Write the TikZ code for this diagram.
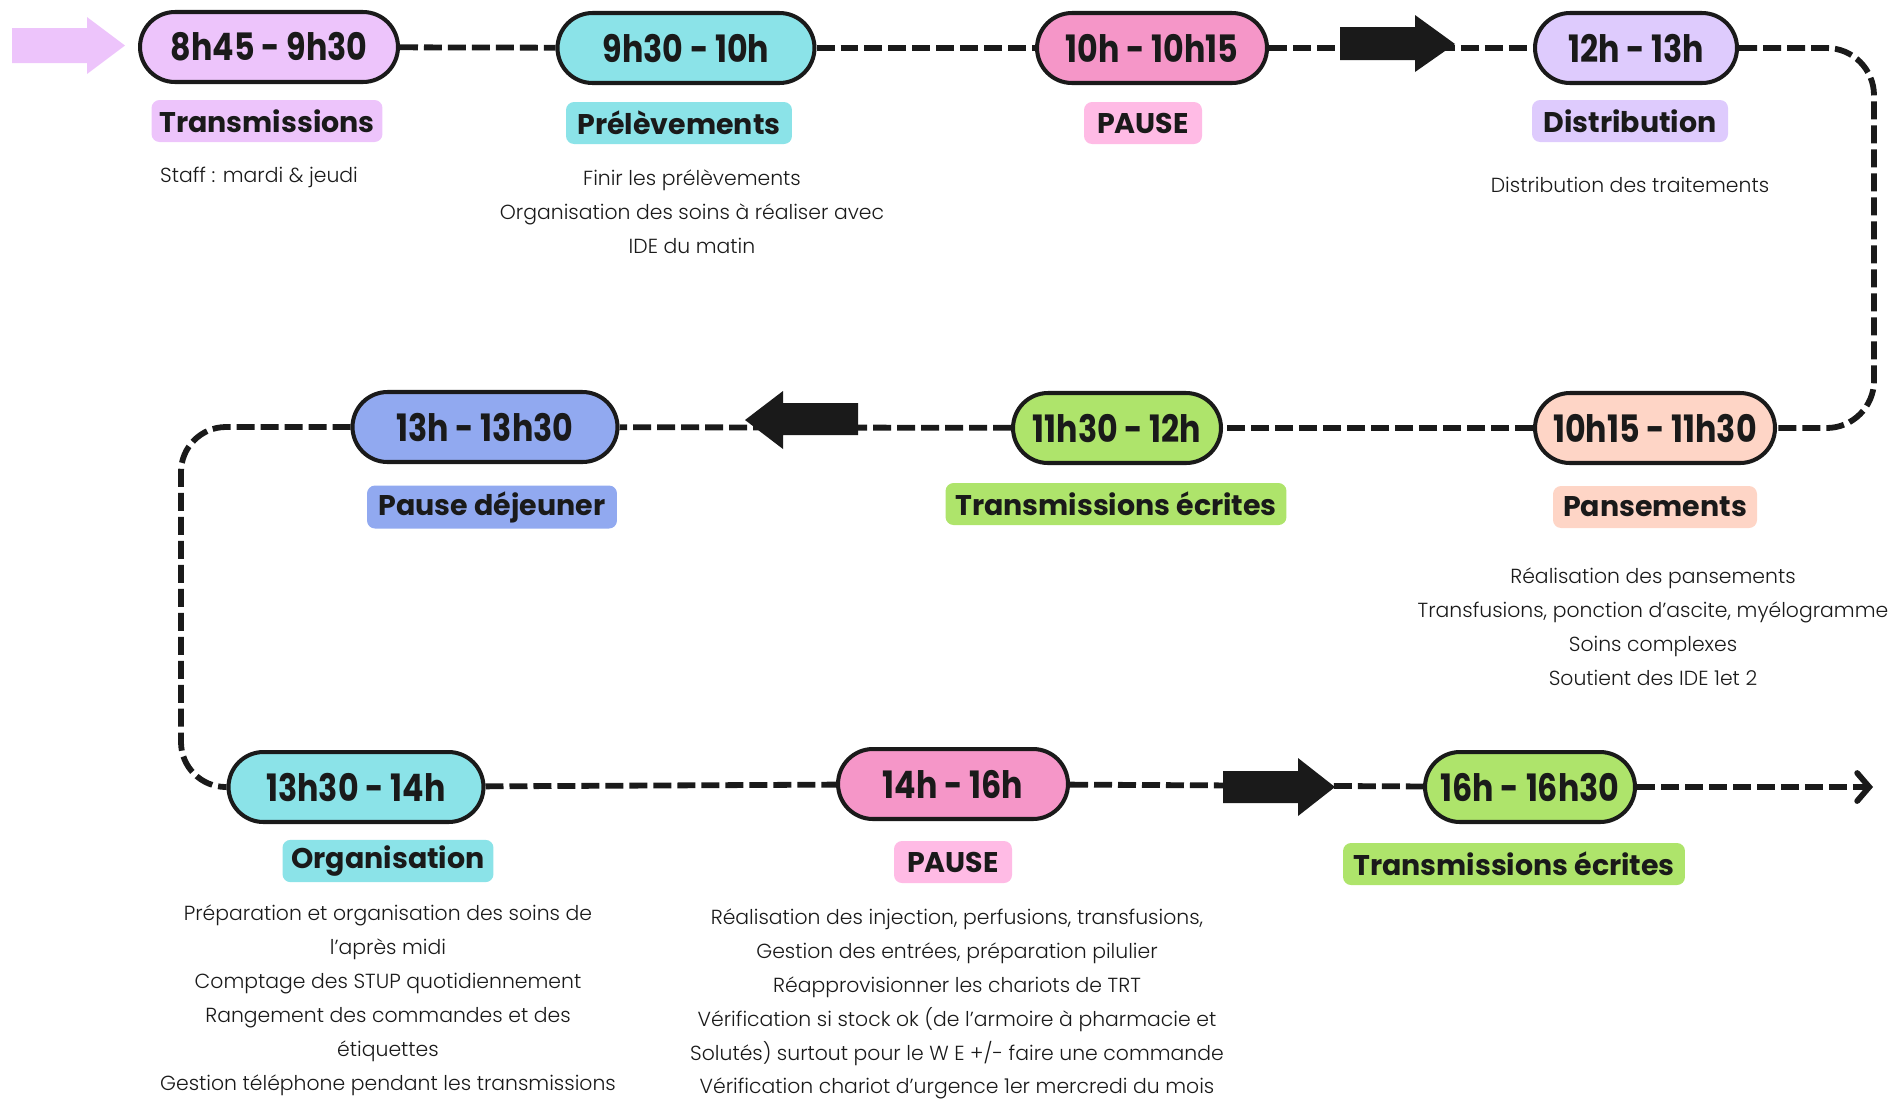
\documentclass[tikz,border=0pt]{standalone}
\usepackage{fontspec}
\setmainfont{Poppins}
\newfontfamily\hourfont{Poppins}[FakeStretch=0.84]
\newfontfamily\thinfont{Poppins}[UprightFont=* Light]
\usetikzlibrary{arrows.meta}
\definecolor{ink}{HTML}{1A1A1A}
\definecolor{mauve}{HTML}{EDC4FB}
\definecolor{cyan}{HTML}{8BE3E8}
\definecolor{rose}{HTML}{F596C8}
\definecolor{lightrose}{HTML}{FFBBE5}
\definecolor{lavender}{HTML}{DECBFD}
\definecolor{peach}{HTML}{FED5C6}
\definecolor{lime}{HTML}{AEE46B}
\definecolor{periwinkle}{HTML}{91A9F0}

\begin{document}
\begin{tikzpicture}[x=0.02cm,y=-0.02cm,
  hour/.style={draw=ink, line width=2.3pt, rounded corners=0.7cm, minimum height=1.4cm, inner xsep=0pt, text=ink, font=\hourfont\bfseries\fontsize{21.5}{24}\selectfont},
  tag/.style={rounded corners=0.16cm, minimum height=0.84cm, inner xsep=0pt, text=ink, font=\bfseries\fontsize{16.2}{18}\selectfont},
  notes/.style={align=center, text=ink, font=\thinfont\fontsize{11.6}{19.3}\selectfont},
  track/.style={draw=ink, line width=3.3pt, dash pattern=on 0.36cm off 0.12cm}]
    \useasboundingbox (0,0) rectangle (1892,1100);

    % matin
    \fill[mauve] (12,28) -- (87,28) -- (87,17) -- (125,45.5) -- (87,74) -- (87,63) -- (12,63) -- cycle;
    \node[hour, fill=mauve, minimum width=5.16cm] (p1) at (269,47) {8h45 - 9h30};
    \node[tag, fill=mauve, minimum width=4.62cm] (l1) at (267,121) {Transmissions};
    \node[notes] (t1) at (259,177) {Staff : mardi \& jeudi};

    \node[hour, fill=cyan, minimum width=5.14cm] (p2) at (686,48) {9h30 - 10h};
    \node[tag, fill=cyan, minimum width=4.52cm] (l2) at (679,123) {Prélèvements};
    \node[notes] (t2) at (692,212) {Finir les prélèvements\\Organisation des soins à réaliser avec\\IDE du matin};

    \node[hour, fill=rose, minimum width=4.6cm] (p3) at (1152,48) {10h - 10h15};
    \node[tag, fill=lightrose, minimum width=2.36cm] (l3) at (1143,123) {PAUSE};

    \node[hour, fill=lavender, minimum width=4.04cm] (p4) at (1636,48) {12h - 13h};
    \node[tag, fill=lavender, minimum width=3.92cm] (l4) at (1630,121) {Distribution};
    \node[notes] (t4) at (1630,185) {Distribution des traitements};

    % fin de matinee
    \node[hour, fill=peach, minimum width=4.8cm] (p5) at (1655,428) {10h15 - 11h30};
    \node[tag, fill=peach, minimum width=4.08cm] (l5) at (1655,507) {Pansements};
    \node[notes] (t5) at (1653,627) {Réalisation des pansements\\Transfusions, ponction d’ascite, myélogramme\\Soins complexes\\Soutient des IDE 1et 2};

    \node[hour, fill=lime, minimum width=4.16cm] (p6) at (1117,428) {11h30 - 12h};
    \node[tag, fill=lime, minimum width=6.82cm] (l6) at (1116,504) {Transmissions écrites};

    \node[hour, fill=periwinkle, minimum width=5.3cm] (p7) at (485,427) {13h - 13h30};
    \node[tag, fill=periwinkle, minimum width=5cm] (l7) at (492,507) {Pause déjeuner};

    % apres midi
    \node[hour, fill=cyan, minimum width=5.1cm] (p8) at (356,787) {13h30 - 14h};
    \node[tag, fill=cyan, minimum width=4.22cm] (l8) at (388,861) {Organisation};
    \node[notes] (t8) at (388,1000) {Préparation et organisation des soins de\\l’après midi\\Comptage des STUP quotidiennement\\Rangement des commandes et des\\étiquettes\\Gestion téléphone pendant les transmissions};

    \node[hour, fill=rose, minimum width=4.6cm] (p9) at (953,784) {14h - 16h};
    \node[tag, fill=lightrose, minimum width=2.36cm] (l9) at (953,862) {PAUSE};
    \node[notes] (t9) at (957,1004) {Réalisation des injection, perfusions, transfusions,\\Gestion des entrées, préparation pilulier\\Réapprovisionner les chariots de TRT\\Vérification si stock ok (de l’armoire à pharmacie et\\Solutés) surtout pour le W E +/- faire une commande\\Vérification chariot d’urgence 1er mercredi du mois};

    \node[hour, fill=lime, minimum width=4.2cm] (p10) at (1530,787) {16h - 16h30};
    \node[tag, fill=lime, minimum width=6.84cm] (l10) at (1514,864) {Transmissions écrites};

    % liaisons
    \coordinate (ne) at (1874,48);
    \coordinate (se) at (1874,428);
    \coordinate (nw) at (181,427);
    \coordinate (sw) at (181,787);
    \coordinate (fin) at (1873,787);
    \draw[track] (p1) -- (p2);
    \draw[track] (p2) -- (p3);
    \draw[track] (p3) -- (p4);
    \draw[track, rounded corners=0.95cm] (p4.east) -- (ne) -- (se) -- (p5.east);
    \draw[track] (p5) -- (p6);
    \draw[track] (p6) -- (p7);
    \draw[track, rounded corners=0.9cm] (p7.west) -- (nw) -- (sw) -- (p8.west);
    \draw[track] (p8) -- (p9);
    \draw[track] (p9) -- (p10);
    \draw[track, -{Straight Barb[length=2.4mm, width=5.6mm, line cap=round]}] (p10.east) -- (fin);

    % grosses fleches
    \fill[ink] (1340,27) -- (1415,27) -- (1415,15) -- (1455,44) -- (1415,72) -- (1415,60) -- (1340,60) -- cycle;
    \fill[ink] (858,403) -- (783,403) -- (783,391) -- (745,420) -- (783,449) -- (783,435) -- (858,435) -- cycle;
    \fill[ink] (1223,771) -- (1298,771) -- (1298,758) -- (1335,787) -- (1298,816) -- (1298,803) -- (1223,803) -- cycle;
\end{tikzpicture}
\end{document}
